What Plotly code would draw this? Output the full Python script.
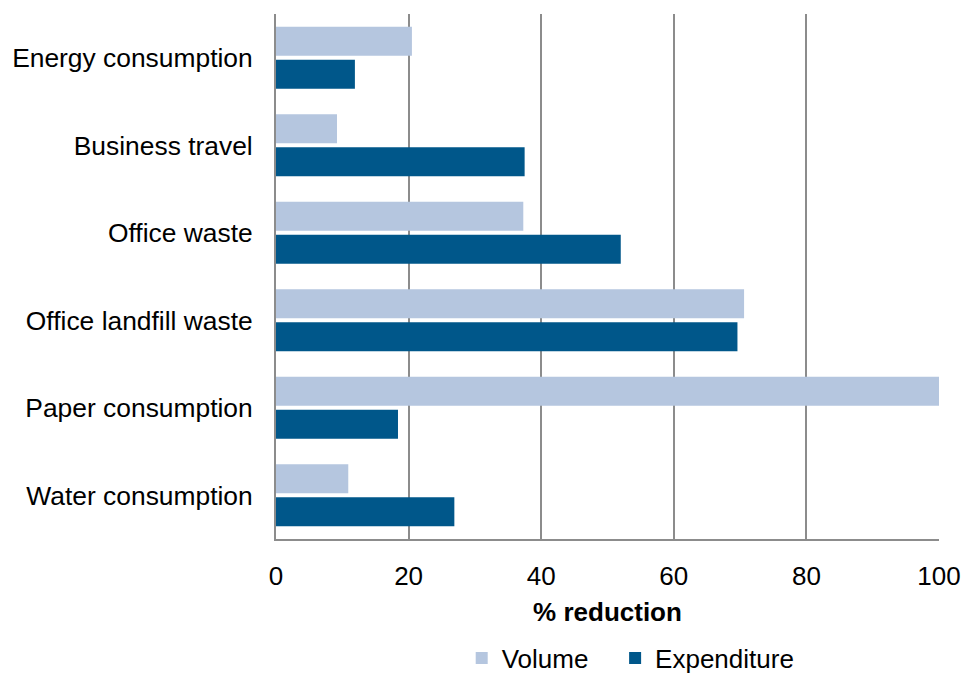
import plotly.graph_objects as go

categories = ["Energy consumption", "Business travel", "Office waste",
              "Office landfill waste", "Paper consumption", "Water consumption"]
volume = [20.5, 9.2, 37.3, 70.6, 100.0, 10.9]
expenditure = [11.9, 37.5, 52.0, 69.6, 18.4, 26.9]
x_ticks = [0, 20, 40, 60, 80, 100]

FONT = "Liberation Sans, Arial, sans-serif"
GRID = "#8C8C8C"
SIZE = 26
PAD = "\u00a0" * 3  # extra room between the two legend entries

fig = go.Figure()
fig.add_trace(go.Bar(y=categories, x=volume, orientation="h", name="Volume" + PAD,
                     marker=dict(color="#B5C6DF", line=dict(width=0))))
fig.add_trace(go.Bar(y=categories, x=expenditure, orientation="h", name="Expenditure",
                     marker=dict(color="#00578A", line=dict(width=0))))

fig.update_layout(
    width=964, height=675,
    margin=dict(l=276, r=25, t=14, b=136, autoexpand=False),
    paper_bgcolor="white", plot_bgcolor="white",
    barmode="group", bargap=0.246, bargroupgap=0.12,
    font=dict(family=FONT, size=SIZE, color="#000000"),
    xaxis=dict(range=[0, 100], tickvals=x_ticks, showgrid=True, gridcolor=GRID,
               gridwidth=2, showline=True, linecolor=GRID, linewidth=2,
               zeroline=False, ticks="", ticklen=0, ticklabelstandoff=13,
               tickfont=dict(size=SIZE),
               title=dict(text="<b>% reduction</b>", font=dict(size=SIZE), standoff=13)),
    yaxis=dict(autorange="reversed", showline=True, linecolor=GRID, linewidth=2,
               showgrid=False, ticks="", ticklabelstandoff=16,
               tickfont=dict(size=26.4)),
    legend=dict(orientation="h", x=0.535, xanchor="center", y=-0.227, yanchor="middle",
                font=dict(size=SIZE), itemwidth=30, traceorder="normal"),
    showlegend=True,
)

fig.write_html("out.html")
